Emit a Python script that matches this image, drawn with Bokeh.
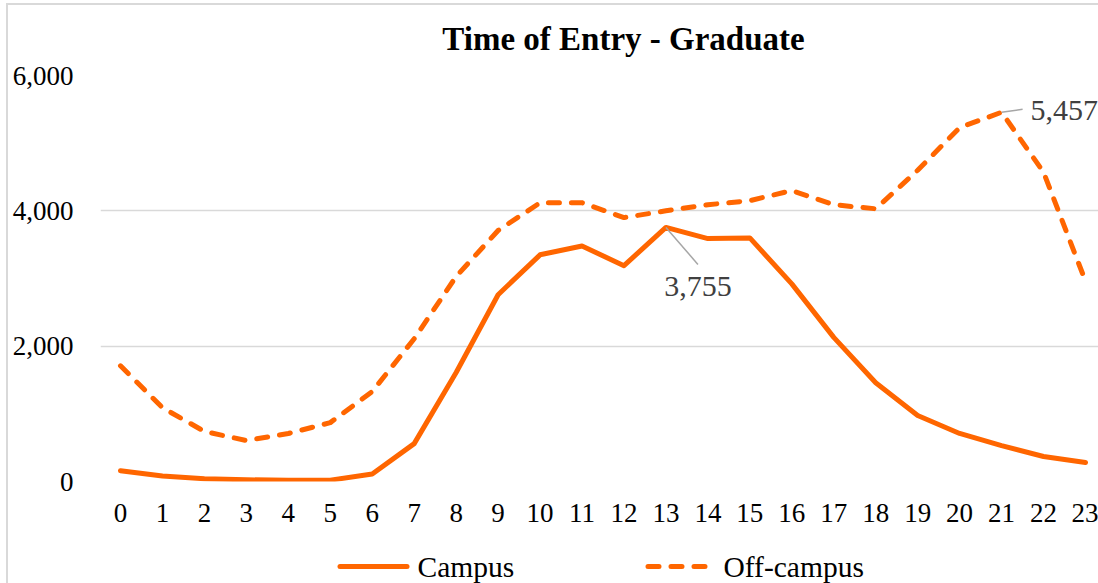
from bokeh.plotting import figure
from bokeh.layouts import column
from bokeh.models import Range1d, FixedTicker, NumeralTickFormatter, Label
from bokeh.core.properties import value
from bokeh.embed import file_html
from bokeh.resources import INLINE

hours = list(range(24))
campus = [160, 80, 40, 25, 20, 20, 110, 560, 1610, 2760, 3350, 3480, 3190, 3755,
          3590, 3600, 2920, 2130, 1460, 975, 710, 530, 370, 280]
off_campus = [1710, 1090, 740, 605, 710, 870, 1330, 2110, 3030, 3710, 4120, 4120, 3900, 4000,
              4090, 4150, 4300, 4090, 4030, 4600, 5230, 5457, 4570, 2960]
y_ticks = [0, 2000, 4000, 6000]
title_text = "Time of Entry - Graduate"
series_names = ["Campus", "Off-campus"]

ORANGE = "#FF6600"
FONT = "Liberation Serif"
BORDER = "#D9D9D9"

OFFX, OFFY = 8, 5            # page offset of the figures (after the chart-area border)
W = 1098 - OFFX
FRAME_L = 100                # page x of plot-area left edge
H_TITLE, H_MAIN, H_LEG = 55, 475, 48
ML = FRAME_L - OFFX
MT, MB = 15, 54
x0, x1 = -0.4767, 23.31
y0, y1 = 0, 6000
fw = W - ML
fh = H_MAIN - MT - MB
px_x = fw / (x1 - x0)
px_y = fh / (y1 - y0)


def strip(height):
    f = figure(width=W, height=height, output_backend="svg", toolbar_location=None,
               x_range=Range1d(FRAME_L, FRAME_L + fw), y_range=Range1d(0, height),
               x_axis_type=None, y_axis_type=None,
               min_border_left=ML, min_border_right=0, min_border_top=0, min_border_bottom=0)
    f.outline_line_color = None
    f.xgrid.visible = False
    f.ygrid.visible = False
    f.background_fill_color = "white"
    f.border_fill_color = "white"
    return f


# title strip
pt = strip(H_TITLE)
pt.text(x=[623], y=[H_TITLE - 33], text=[title_text], text_font=value(FONT), text_font_size="33px",
        text_font_style="bold", text_color="black", text_align="center", text_baseline="middle")

# main chart
p = figure(width=W, height=H_MAIN, output_backend="svg", toolbar_location=None,
           x_range=Range1d(x0, x1), y_range=Range1d(y0, y1),
           min_border_left=ML, min_border_right=0, min_border_top=MT, min_border_bottom=MB)
p.outline_line_color = None
p.background_fill_color = "white"
p.border_fill_color = "white"

p.xaxis.ticker = FixedTicker(ticks=hours)
p.yaxis.ticker = FixedTicker(ticks=y_ticks)
p.yaxis.formatter = NumeralTickFormatter(format="0,0")
for ax in (p.xaxis, p.yaxis):
    ax.axis_line_color = None
    ax.major_tick_line_color = None
    ax.minor_tick_line_color = None
    ax.major_tick_out = 0
    ax.major_tick_in = 0
    ax.major_label_text_font = FONT
    ax.major_label_text_font_size = "27px"
    ax.major_label_text_color = "black"
p.yaxis.major_label_standoff = 27
p.xaxis.major_label_standoff = 22

p.xgrid.grid_line_color = None
p.ygrid.grid_line_color = BORDER
p.ygrid.grid_line_width = 1.5

line_style = dict(line_color=ORANGE, line_width=5, line_join="round", line_cap="round")
dash_style = dict(line_dash="11 12")

p.line(hours, campus, **line_style)
p.line(hours, off_campus, **line_style, **dash_style)

# data labels with leader lines
i1 = campus.index(max(campus))
i2 = off_campus.index(max(off_campus))
lead1 = (32, -37)   # pixels (right, up)
lead2 = (21, 3)
p.segment(x0=[hours[i1], hours[i2]], y0=[campus[i1], off_campus[i2]],
          x1=[hours[i1] + lead1[0] / px_x, hours[i2] + lead2[0] / px_x],
          y1=[campus[i1] + lead1[1] / px_y, off_campus[i2] + lead2[1] / px_y],
          line_color="#A6A6A6", line_width=1.5)
p.add_layout(Label(x=hours[i1], y=campus[i1], text=f"{campus[i1]:,}", x_offset=32, y_offset=-59,
                   text_align="center", text_baseline="middle", text_font=FONT,
                   text_font_size="30px", text_color="#404040"))
p.add_layout(Label(x=hours[i2], y=off_campus[i2], text=f"{off_campus[i2]:,}", x_offset=29, y_offset=2,
                   text_align="left", text_baseline="middle", text_font=FONT,
                   text_font_size="30px", text_color="#404040"))

# legend strip below the chart (page-pixel ranges)
pl = strip(H_LEG)
leg_y = 17
key_x = [339.5, 647.5]
key_len = [67, 58]
lab_x = [417, 723]
pl.segment(x0=[key_x[0]], y0=[leg_y], x1=[key_x[0] + key_len[0]], y1=[leg_y], **line_style)
pl.segment(x0=[key_x[1]], y0=[leg_y], x1=[key_x[1] + key_len[1]], y1=[leg_y], **line_style, **dash_style)
pl.text(x=lab_x, y=[leg_y, leg_y], text=series_names, text_font=value(FONT),
        text_font_size="29.5px", text_color="black", text_align="left", text_baseline="middle")

layout = column(pt, p, pl, spacing=0,
                styles={"margin-left": f"{OFFX - 2}px", "margin-top": f"{OFFY - 2}px",
                        "border-left": f"2px solid {BORDER}", "border-top": f"2px solid {BORDER}"})
open("out.html", "w").write(file_html(layout, INLINE))
